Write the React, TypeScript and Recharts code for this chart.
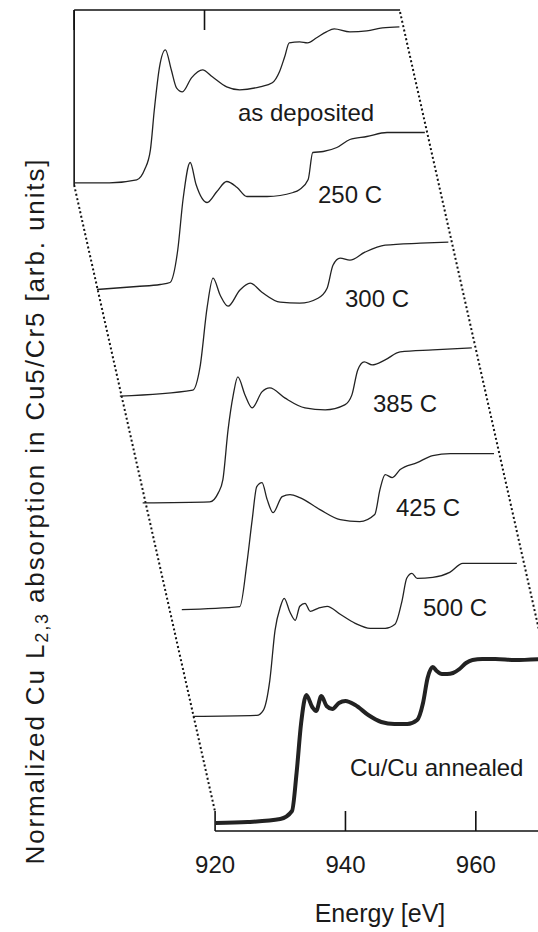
import React from 'react';
import { LineChart, Line, XAxis, YAxis, ReferenceLine } from 'recharts';

// spectra, bottom (k=0) to top (k=6); energy in eV, intensity normalized to pre-edge = 0
const cuAnnealedE = [920.1, 925, 930, 931.8, 932.5, 933.2, 934.0, 934.9, 935.5, 936.3, 937.1, 938.0, 939.0, 940.0, 941.5, 943.5, 945.5, 947.5, 949.5, 951.0, 951.9, 952.6, 953.4, 954.0, 954.8, 955.6, 956.5, 957.5, 958.5, 959.5, 961, 963, 966, 970];
const cuAnnealedI = [0, 0.01, 0.04, 0.12, 0.5, 1.0, 1.28, 1.16, 1.12, 1.27, 1.17, 1.14, 1.2, 1.22, 1.18, 1.08, 1.01, 0.99, 0.99, 1.03, 1.2, 1.45, 1.56, 1.52, 1.49, 1.49, 1.5, 1.54, 1.6, 1.63, 1.64, 1.64, 1.63, 1.64];

const c500E = [920.2, 930.0, 931.0, 932.0, 932.8, 933.6, 934.2, 935.1, 935.9, 936.6, 937.4, 938.2, 939.4, 940.8, 942.8, 945.1, 947.4, 949.7, 951.2, 952.3, 953.0, 953.8, 954.6, 957.0, 959.6, 961.6, 967.3, 969.9];
const c500I = [0, 0.01, 0.06, 0.36, 0.86, 1.09, 1.18, 1.04, 0.96, 1.10, 1.13, 1.05, 1.08, 1.10, 1.02, 0.93, 0.88, 0.88, 0.92, 1.16, 1.38, 1.43, 1.38, 1.39, 1.44, 1.53, 1.53, 1.53];

const c425E = [922.1, 931.0, 932.1, 932.9, 933.6, 934.4, 935.2, 936.1, 937.5, 938.7, 940.2, 943.3, 946.4, 949.4, 951.7, 952.5, 953.3, 954.4, 955.6, 958.2, 960.6, 963.3, 970.0];
const c425I = [0, 0.03, 0.47, 0.90, 1.23, 1.27, 1.10, 0.97, 1.13, 1.15, 1.12, 1.00, 0.90, 0.88, 0.95, 1.20, 1.35, 1.32, 1.40, 1.47, 1.54, 1.56, 1.56];

const c385E = [919.7, 930.0, 931.3, 932.0, 932.8, 933.6, 934.3, 935.4, 936.5, 938.0, 939.2, 941.5, 944.6, 947.7, 950.7, 951.8, 952.7, 953.7, 954.9, 956.9, 959.2, 964.2, 970.2];
const c385I = [0, 0.01, 0.10, 0.23, 0.73, 1.08, 1.26, 1.08, 0.95, 1.11, 1.15, 1.05, 0.95, 0.93, 0.98, 1.08, 1.33, 1.41, 1.38, 1.43, 1.51, 1.53, 1.55];

const c300E = [919.8, 931.0, 932.1, 933.2, 934.1, 935.2, 936.4, 938.2, 939.8, 941.6, 944.4, 947.4, 950.2, 951.6, 952.5, 953.6, 955.1, 957.4, 960.5, 965.9, 970.2];
const c300I = [0, 0.06, 0.29, 0.89, 1.18, 1.01, 0.90, 1.06, 1.13, 1.04, 0.94, 0.93, 0.98, 1.08, 1.31, 1.38, 1.36, 1.44, 1.51, 1.53, 1.54];

const c250E = [919.9, 926.0, 929.6, 931.1, 932.3, 933.1, 934.2, 935.1, 936.8, 938.3, 939.8, 941.4, 942.9, 946.0, 950.0, 951.0, 952.3, 953.0, 954.6, 956.7, 958.7, 961.3, 964.4, 970.2];
const c250I = [0, 0.03, 0.05, 0.07, 0.40, 0.90, 1.27, 1.05, 0.87, 0.98, 1.08, 1.02, 0.93, 0.93, 0.97, 1.00, 1.10, 1.37, 1.38, 1.42, 1.50, 1.53, 1.57, 1.57];

const asDepE = [920.0, 925.4, 929.6, 930.8, 931.7, 932.3, 933.1, 934.0, 934.9, 935.7, 936.6, 938.0, 939.7, 941.2, 943.4, 945.4, 948.5, 950.4, 951.5, 952.3, 953.0, 954.6, 955.8, 957.2, 958.7, 959.9, 962.3, 964.9, 967.3, 969.9];
const asDepI = [0, 0, 0.03, 0.13, 0.33, 0.73, 1.16, 1.33, 1.13, 0.95, 0.91, 1.05, 1.13, 1.06, 0.96, 0.93, 0.96, 1.00, 1.11, 1.26, 1.40, 1.41, 1.40, 1.45, 1.51, 1.54, 1.51, 1.52, 1.55, 1.56];

const seriesNames = ['Cu/Cu annealed', '500 C', '425 C', '385 C', '300 C', '250 C', 'as deposited'];
const seriesE = [cuAnnealedE, c500E, c425E, c385E, c300E, c250E, asDepE];
const seriesI = [cuAnnealedI, c500I, c425I, c385I, c300I, c250I, asDepI];

const xTicks = [920, 940, 960];

// waterfall offsets per trace
const STEP_E = 3.604;
const STEP_I = 1.067;
const X_DOMAIN = [887, 970];
const Y_DOMAIN = [-1.09, 8.23];
const TOP_SHIFT = 6 * STEP_E;

const W = 541;
const H = 932;
const FONT = '"Liberation Sans", Arial, Helvetica, sans-serif';

const traces = seriesE.map((es, k) =>
  es.map((e, j) => ({ e: e - k * STEP_E, v: seriesI[k][j] + k * STEP_I }))
);

// label placement (pixels)
const labelPos = [
  { x: 350, y: 767 },
  { x: 423, y: 607 },
  { x: 396, y: 507 },
  { x: 373, y: 403 },
  { x: 345, y: 298 },
  { x: 318, y: 194 },
  { x: 238, y: 112 },
];

export default function App() {
  const lo = 920 - TOP_SHIFT;
  const hi = 970 - TOP_SHIFT;
  const frame = '#111';
  return (
    <div style={{ position: 'absolute', left: 0, top: 0, width: 538, height: 932, overflow: 'hidden', background: '#fff' }}>
      <LineChart width={W} height={H} margin={{ top: 0, right: 0, bottom: 0, left: 0 }}>
        <XAxis type="number" dataKey="e" domain={X_DOMAIN} hide allowDataOverflow />
        <YAxis type="number" dataKey="v" domain={Y_DOMAIN} hide allowDataOverflow />

        {/* top frame */}
        <ReferenceLine segment={[{ x: lo, y: 8.13 }, { x: hi, y: 8.13 }]} stroke={frame} strokeWidth={1.6} />
        <ReferenceLine segment={[{ x: lo, y: 8.13 }, { x: lo, y: 6.38 }]} stroke={frame} strokeWidth={1.6} />
        {xTicks.slice(0, 2).map((t) => (
          <ReferenceLine key={'tt' + t} segment={[{ x: t - TOP_SHIFT, y: 8.13 }, { x: t - TOP_SHIFT, y: 7.93 }]} stroke={frame} strokeWidth={1.6} />
        ))}
        {/* connecting dotted edges */}
        <ReferenceLine segment={[{ x: lo, y: 6.38 }, { x: 920, y: 0.11 }]} stroke={frame} strokeWidth={2} strokeDasharray="2 2.5" />
        <ReferenceLine segment={[{ x: hi, y: 8.11 }, { x: 970, y: 1.84 }]} stroke={frame} strokeWidth={2} strokeDasharray="2 2.5" />
        {/* bottom axis */}
        <ReferenceLine segment={[{ x: 920, y: -0.08 }, { x: 970, y: -0.08 }]} stroke={frame} strokeWidth={1.6} />
        {xTicks.map((t) => (
          <ReferenceLine key={'bt' + t} segment={[{ x: t, y: -0.08 }, { x: t, y: 0.12 }]} stroke={frame} strokeWidth={1.6} />
        ))}

        {traces.map((d, k) => (
          <Line
            key={seriesNames[k]}
            data={d}
            dataKey="v"
            type="monotone"
            stroke="#222"
            strokeWidth={k === 0 ? 4 : 1.3}
            dot={false}
            isAnimationActive={false}
          />
        ))}
      </LineChart>

      <svg width={538} height={932} style={{ position: 'absolute', left: 0, top: 0 }}>
        <g fontFamily={FONT} fill="#1a1a1a">
          {seriesNames.map((n, k) => (
            <text key={n} x={labelPos[k].x} y={labelPos[k].y} fontSize={24} dominantBaseline="central">
              {n}
            </text>
          ))}
          {xTicks.map((t) => (
            <text key={t} x={215.1 + (t - 920) * (W / (X_DOMAIN[1] - X_DOMAIN[0]))} y={864} fontSize={24} textAnchor="middle" dominantBaseline="central">
              {t}
            </text>
          ))}
          <text x={380} y={913} fontSize={25} textAnchor="middle" dominantBaseline="central">
            Energy [eV]
          </text>
          <text
            transform="translate(35,512) rotate(-90)"
            fontSize={26}
            textAnchor="middle"
            dominantBaseline="central"
            textLength={705}
            lengthAdjust="spacing"
          >
            Normalized Cu L<tspan fontSize={18} dy={7}>2,3</tspan>
            <tspan dy={-7}> absorption in Cu5/Cr5 [arb. units]</tspan>
          </text>
        </g>
      </svg>
    </div>
  );
}
